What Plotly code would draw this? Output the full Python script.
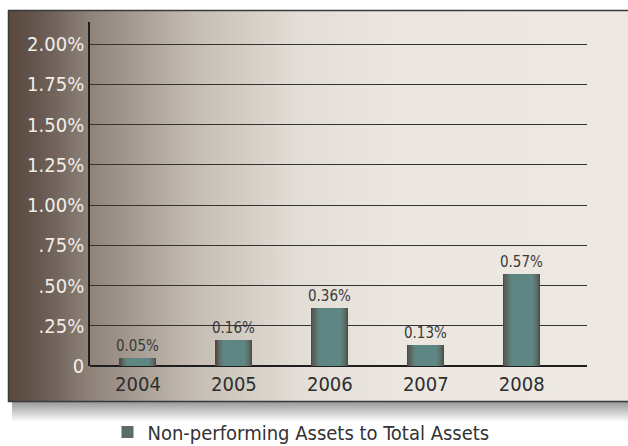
import plotly.graph_objects as go
import base64

years = ["2004", "2005", "2006", "2007", "2008"]
ratio = [0.05, 0.16, 0.36, 0.13, 0.57]
labels = ["0.05%", "0.16%", "0.36%", "0.13%", "0.57%"]
y_ticks = [0, 0.25, 0.5, 0.75, 1.0, 1.25, 1.5, 1.75, 2.0]
y_tick_text = ["0", ".25%", ".50%", ".75%", "1.00%", "1.25%", "1.50%", "1.75%", "2.00%"]
series_name = "Non-performing Assets to Total Assets"

FONT = "Liberation Sans Narrow, DejaVu Sans Condensed, Roboto Condensed, Arial Narrow, Roboto, sans-serif"
W, H = 628, 446
L, R, T, B = 90, 41, 22, 80
PW, PH = W - L - R, H - T - B

svg = f'''<svg xmlns="http://www.w3.org/2000/svg" width="{W}" height="{H}" viewBox="0 0 {W} {H}" preserveAspectRatio="none">
<defs>
<linearGradient id="g" x1="0" y1="0" x2="1" y2="0">
<stop offset="0" stop-color="#58483d"/>
<stop offset="0.05" stop-color="#675850"/>
<stop offset="0.13" stop-color="#8e8279"/>
<stop offset="0.30" stop-color="#c6beb4"/>
<stop offset="0.46" stop-color="#e2ddd5"/>
<stop offset="0.62" stop-color="#ebe7e0"/>
<stop offset="1" stop-color="#ede9e2"/>
</linearGradient>
<linearGradient id="s" x1="0" y1="0" x2="0" y2="1">
<stop offset="0" stop-color="#9a9a9a"/>
<stop offset="1" stop-color="#ffffff"/>
</linearGradient>
</defs>
<rect x="0" y="0" width="{W}" height="{H}" fill="#ffffff"/>
<rect x="12" y="402" width="{W}" height="20" fill="url(#s)"/>
<rect x="8" y="10" width="{W}" height="392" fill="url(#g)"/>
<line x1="8" y1="10.5" x2="{W}" y2="10.5" stroke="#3a3a3a" stroke-width="1.5"/>
<line x1="8.5" y1="10" x2="8.5" y2="402" stroke="#3a3a3a" stroke-width="1.5"/>
<line x1="8" y1="401.5" x2="{W}" y2="401.5" stroke="#3a3a3a" stroke-width="1.5"/>
</svg>'''
src = "data:image/svg+xml;base64," + base64.b64encode(svg.encode()).decode()

fig = go.Figure()

# bar gradient simulated by overlaid bars of decreasing width
outer = (86, 72, 64)
inner = (94, 134, 131)
n = 8
for i in range(n):
    t = i / (n - 1)
    tt = t ** 0.6
    c = tuple(int(outer[k] + (inner[k] - outer[k]) * tt) for k in range(3))
    w_px = 37 - i * 2.2
    fig.add_trace(go.Bar(
        x=years, y=ratio,
        width=w_px / 96.0,
        marker=dict(color="rgb(%d,%d,%d)" % c, line=dict(width=0)),
        name=series_name,
        showlegend=(i == 3),
        text=labels if i == 0 else None,
        textposition="outside" if i == 0 else "none",
        textfont=dict(family=FONT, size=15, color="#3a3a3a"),
        constraintext="none",
        cliponaxis=False,
        hoverinfo="skip",
    ))

fig.update_layout(
    width=W, height=H,
    margin=dict(l=L, r=R, t=T, b=B, autoexpand=False),
    paper_bgcolor="white",
    plot_bgcolor="rgba(0,0,0,0)",
    barmode="overlay",
    bargap=0,
    font=dict(family=FONT),
    images=[dict(
        source=src, xref="paper", yref="paper",
        x=-L / PW, y=1 + T / PH, sizex=W / PW, sizey=H / PH,
        xanchor="left", yanchor="top", sizing="stretch", layer="below",
    )],
    showlegend=True,
    legend=dict(
        orientation="h",
        xref="container", x=301 / W, xanchor="center",
        yref="container", y=1 - 432 / H, yanchor="middle",
        font=dict(family=FONT, size=20, color="#333333"),
        bgcolor="rgba(0,0,0,0)",
    ),
    xaxis=dict(
        type="category",
        range=[-0.5, 4.68],
        showgrid=False, zeroline=False,
        showline=False, automargin=False,
        ticks="", tickfont=dict(family=FONT, size=20, color="#2e2e2e"),
        ticklabelstandoff=4,
        fixedrange=True,
    ),
    yaxis=dict(
        range=[0, 2.137],
        tickvals=y_ticks, ticktext=y_tick_text,
        tickfont=dict(family=FONT, size=20, color="#f2eee8"),
        showgrid=True, gridcolor="#333333", gridwidth=1.3,
        zeroline=True, zerolinecolor="#1e1e1e", zerolinewidth=1.5,
        showline=True, linecolor="#1e1e1e", linewidth=1.5,
        ticks="", ticklabelstandoff=0, automargin=False,
        fixedrange=True,
    ),
)

fig.write_html(
    "out.html",
    config={"displayModeBar": False},
    post_script="document.body.style.margin='0';document.body.style.overflow='hidden';",
)
